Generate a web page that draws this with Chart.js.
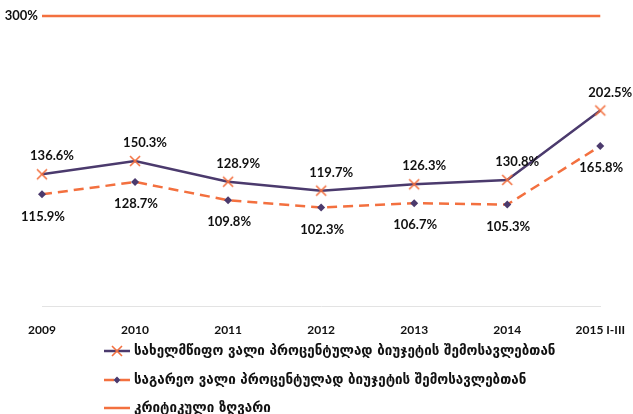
<!DOCTYPE html>
<html>
<head>
<meta charset="utf-8">
<script src="https://cdn.jsdelivr.net/npm/chart.js@4.4.1/dist/chart.umd.min.js"></script>
<style>
	html, body { margin: 0; padding: 0; background: #fff; }
	#wrap { width: 633px; height: 414px; }
</style>
</head>
<body>
<div id="wrap"><canvas id="debtChart" width="633" height="414"></canvas></div>
<script>

// data
var years = ['2009', '2010', '2011', '2012', '2013', '2014', '2015 I-III'];
var govDebt = [136.6, 150.3, 128.9, 119.7, 126.3, 130.8, 202.5];
var extDebt = [115.9, 128.7, 109.8, 102.3, 106.7, 105.3, 165.8];
var criticalLimit = [300, 300, 300, 300, 300, 300, 300];
var seriesNames = [
	'სახელმწიფო ვალი პროცენტულად ბიუჯეტის შემოსავლებთან',
	'საგარეო ვალი პროცენტულად ბიუჯეტის შემოსავლებთან',
	'კრიტიკული ზღვარი'
];

var purple = '#4b3a6d';
var orange = '#f3703f';
var labelFont = 'bold 13px Lato';

function drawMarker(ctx, style, x, y, r, color){
	ctx.save();
	if (style === 'cross'){
		ctx.strokeStyle = color;
		ctx.lineWidth = 1.6;
		ctx.beginPath();
		ctx.moveTo(x - r, y - r); ctx.lineTo(x + r, y + r);
		ctx.moveTo(x + r, y - r); ctx.lineTo(x - r, y + r);
		ctx.stroke();
	} else if (style === 'diamond'){
		ctx.fillStyle = color;
		ctx.beginPath();
		ctx.moveTo(x, y - r); ctx.lineTo(x + r, y);
		ctx.lineTo(x, y + r); ctx.lineTo(x - r, y);
		ctx.closePath();
		ctx.fill();
	}
	ctx.restore();
}

// percent labels next to the points
var valueLabels = {
	id: 'valueLabels',
	afterDatasetsDraw: function(chart){
		var ctx = chart.ctx;
		ctx.save();
		ctx.font = labelFont;
		ctx.fillStyle = '#111';
		ctx.textBaseline = 'middle';

		chart.getDatasetMeta(0).data.forEach(function(pt, i){
			ctx.textAlign = 'center';
			ctx.fillText(govDebt[i].toFixed(1) + '%', pt.x + 10, pt.y - 18);
		});
		chart.getDatasetMeta(1).data.forEach(function(pt, i){
			ctx.textAlign = 'center';
			ctx.fillText(extDebt[i].toFixed(1) + '%', pt.x + 1, pt.y + 22);
		});
		var first = chart.getDatasetMeta(2).data[0];
		ctx.textAlign = 'right';
		ctx.fillText(criticalLimit[0] + '%', first.x - 4, first.y);
		ctx.restore();
	}
};

// legend drawn under the axis, line sample + marker like the original
var lineLegend = {
	id: 'lineLegend',
	afterDraw: function(chart){
		var ctx = chart.ctx;
		var rows = [351, 380, 408];
		var x0 = 104, x1 = 130;
		ctx.save();
		chart.data.datasets.forEach(function(ds, i){
			var y = rows[i];
			ctx.strokeStyle = ds.borderColor;
			ctx.lineWidth = ds.borderWidth;
			ctx.setLineDash(ds.borderDash || []);
			ctx.beginPath();
			ctx.moveTo(x0, y); ctx.lineTo(x1, y);
			ctx.stroke();
			ctx.setLineDash([]);
			if (ds.legendMarker){
				drawMarker(ctx, ds.legendMarker, (x0 + x1) / 2, y, ds.legendMarker === 'cross' ? 5 : 3.5, ds.pointBackgroundColor);
			}
			ctx.font = 'bold 13.4px "DejaVu Sans"';
			ctx.fillStyle = '#111';
			ctx.textAlign = 'left';
			ctx.textBaseline = 'middle';
			ctx.fillText(ds.label, 134, y + 1);
		});
		ctx.restore();
	}
};

var crossStyle = document.createElement('canvas');
crossStyle.width = 14; crossStyle.height = 14;
drawMarker(crossStyle.getContext('2d'), 'cross', 7, 7, 5, orange);

new Chart(document.getElementById('debtChart'), {
	type: 'line',
	data: {
		labels: years,
		datasets: [
			{
				label: seriesNames[0],
				data: govDebt,
				borderColor: purple,
				borderWidth: 2.5,
				pointStyle: crossStyle,
				pointBackgroundColor: orange,
				legendMarker: 'cross',
				tension: 0,
				clip: false
			},
			{
				label: seriesNames[1],
				data: extDebt,
				borderColor: orange,
				borderWidth: 2.5,
				borderDash: [10, 6],
				pointStyle: 'rectRot',
				pointRadius: 4,
				pointBackgroundColor: purple,
				pointBorderColor: purple,
				pointBorderWidth: 0,
				legendMarker: 'diamond',
				tension: 0,
				clip: false
			},
			{
				label: seriesNames[2],
				data: criticalLimit,
				borderColor: orange,
				borderWidth: 2.5,
				pointRadius: 0,
				tension: 0,
				clip: false
			}
		]
	},
	options: {
		responsive: false,
		animation: false,
		layout: { padding: { left: 42, right: 32, top: 16, bottom: 69 } },
		plugins: {
			legend: { display: false },
			tooltip: { enabled: false }
		},
		scales: {
			x: {
				offset: false,
				grid: { display: false },
				border: { display: true, color: '#e3e3e3', width: 1 },
				ticks: {
					color: '#111',
					font: { family: 'Lato', weight: 'bold', size: 12 },
					padding: 8,
					maxRotation: 0,
					autoSkip: false
				}
			},
			y: {
				display: false,
				min: 0,
				max: 300
			}
		}
	},
	plugins: [valueLabels, lineLegend]
});

</script>
</body>
</html>
